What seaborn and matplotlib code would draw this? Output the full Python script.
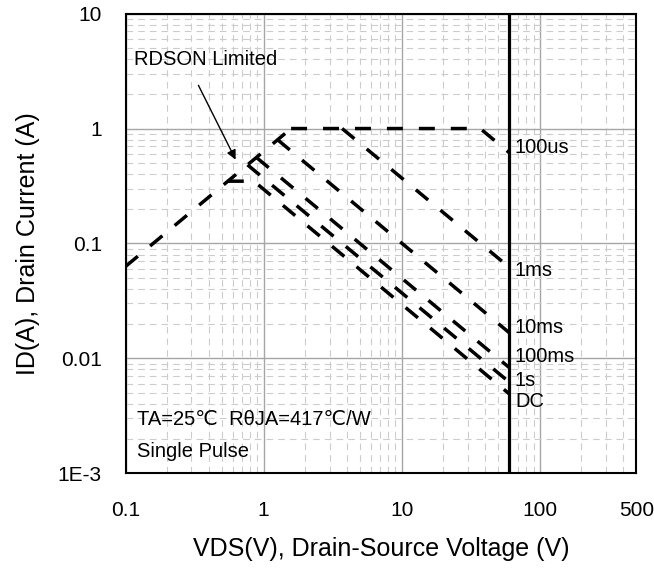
import matplotlib
matplotlib.use("Agg")
import matplotlib.pyplot as plt
import matplotlib.ticker as mticker
import seaborn as sns

sns.set_style("white")
plt.rcParams['font.family'] = ['Liberation Sans', 'DejaVu Sans']
plt.rcParams['text.color'] = 'black'
plt.rcParams['axes.labelcolor'] = 'black'

# Safe operating area, VDS (V) vs ID (A)
rdson_v = [0.1, 1.58]
rdson_i = [0.063, 1.0]

curve_names = ["100us", "1ms", "10ms", "100ms", "1s", "DC"]
curve_v = [[1.58, 37, 60], [3.7, 60], [1.26, 60], [0.886, 60], [0.764, 60], [0.55, 0.85, 60]]
curve_i = [[1.0, 1.0, 0.617], [1.0, 0.062], [0.80, 0.0167], [0.56, 0.0083], [0.483, 0.0062], [0.348, 0.348, 0.0049]]
label_i = [0.68, 0.058, 0.0187, 0.0104, 0.0064, 0.0042]
label_v = 66
bvdss = 60

x_ticks = [0.1, 1, 10, 100, 500]
x_ticklabels = ["0.1", "1", "10", "100", "500"]
y_ticks = [1e-3, 0.01, 0.1, 1, 10]
y_ticklabels = ["1E-3", "0.01", "0.1", "1", "10"]

fig = plt.figure(figsize=(6.54, 5.70), dpi=100)
ax = fig.add_axes([0.192, 0.170, 0.781, 0.806])
ax.set_xscale('log')
ax.set_yscale('log')

dash = (0, (4.6, 4.6))

# RDSON limit
sns.lineplot(x=rdson_v, y=rdson_i, ax=ax, color='black', lw=2.5, linestyle=dash,
             sort=False, estimator=None, dash_capstyle='butt')

# pulse curves
for name, v, i in zip(curve_names, curve_v, curve_i):
    sns.lineplot(x=v, y=i, ax=ax, color='black', lw=2.5, linestyle=dash,
                 sort=False, estimator=None, dash_capstyle='butt')

# BVDSS line
ax.axvline(bvdss, color='black', lw=2.3)

for name, yi in zip(curve_names, label_i):
    ax.text(label_v, yi, name, fontsize=14.5, va='center', ha='left')

ax.text(0.115, 4.0, "RDSON Limited", fontsize=14.5, va='center', ha='left')
ax.annotate("", xy=(0.64, 0.51), xytext=(0.33, 2.5),
            arrowprops=dict(arrowstyle='-|>', color='black', lw=1, mutation_scale=14))
ax.text(0.121, 0.0029, "TA=25\u2103  R\u03b8JA=417\u2103/W", fontsize=14.5, va='center', ha='left')
ax.text(0.121, 0.00155, "Single Pulse", fontsize=14.5, va='center', ha='left')

ax.set_xlim(0.1, 500)
ax.set_ylim(1e-3, 10)
ax.set_xticks(x_ticks)
ax.set_xticklabels(x_ticklabels)
ax.set_yticks(y_ticks)
ax.set_yticklabels(y_ticklabels)
ax.xaxis.set_minor_locator(mticker.LogLocator(base=10, subs=range(2, 10), numticks=20))
ax.yaxis.set_minor_locator(mticker.LogLocator(base=10, subs=range(2, 10), numticks=20))
ax.xaxis.set_minor_formatter(mticker.NullFormatter())
ax.yaxis.set_minor_formatter(mticker.NullFormatter())

ax.set_axisbelow(True)
ax.grid(True, which='major', color='#a6a6a6', lw=1.0, ls='-')
ax.grid(True, which='minor', color='#cccccc', lw=0.8, ls=(0, (6, 4.5)))

ax.tick_params(which='major', direction='out', length=7, width=1.2, colors='black', labelsize=15)
ax.tick_params(axis='x', which='major', pad=13)
ax.tick_params(axis='y', which='major', pad=10)
ax.tick_params(which='minor', direction='out', length=3.6, width=1.0, colors='black')
for s in ax.spines.values():
    s.set_color('black')
    s.set_linewidth(1.5)

ax.set_xlabel("VDS(V), Drain-Source Voltage (V)", fontsize=18)
ax.set_ylabel("ID(A), Drain Current (A)", fontsize=18)
ax.xaxis.set_label_coords(0.5, -0.139)
ax.yaxis.set_label_coords(-0.168, 0.5)

# title sits above the visible area, only descenders show
fig.text(332 / 654, 1.009, "Safe Operating Area", fontsize=18, ha='left', va='baseline')

fig.savefig("out.png", dpi=100)
